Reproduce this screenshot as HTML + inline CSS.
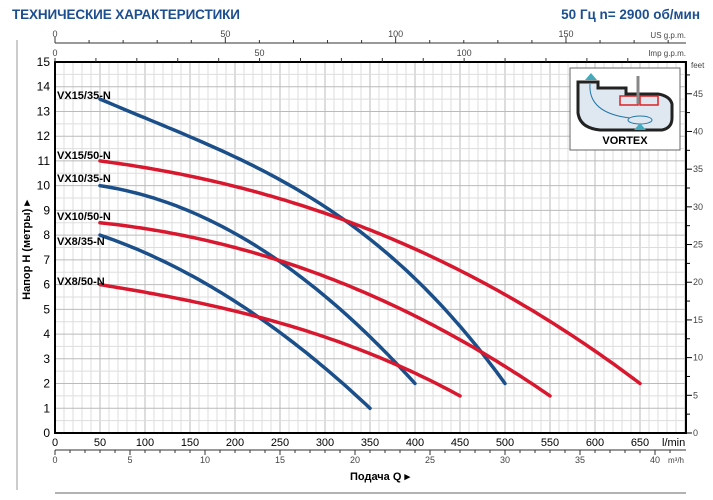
<!DOCTYPE html>
<html><head><meta charset="utf-8">
<style>
html,body{margin:0;padding:0;background:#fff;}
svg{display:block;font-family:"Liberation Sans",sans-serif;}
</style></head><body>
<svg id="s" width="713" height="500" viewBox="0 0 713 500" xmlns="http://www.w3.org/2000/svg">
<text x="12" y="19" font-size="13.5" font-weight="bold" fill="#1c4f8f" textLength="228">ТЕХНИЧЕСКИЕ ХАРАКТЕРИСТИКИ</text>
<text x="700" y="19" font-size="13.5" font-weight="bold" fill="#1c4f8f" text-anchor="end">50 Гц   n= 2900 об/мин</text>
<line x1="17" y1="40" x2="17" y2="490" stroke="#999" stroke-width="1"/>
<line x1="55" y1="493" x2="686" y2="493" stroke="#999" stroke-width="1.5"/>
<g id="grid"></g>
<g id="curves"></g>
<rect x="55" y="62" width="631" height="371" fill="none" stroke="#000" stroke-width="2"/>
<g id="labels" font-size="11"></g>
<g transform="translate(570,68)">
<rect x="0" y="0" width="110" height="82" fill="#fff" stroke="#666"/>
<path d="M8,14 L8,45 Q10,60 30,62 L92,62 Q102,60 102,50 L102,36 Q100,28 88,26 L56,26 L56,20 L28,20 L28,14 Z" fill="#dfe8f0" stroke="#222" stroke-width="3"/>
<rect x="50" y="28" width="18" height="9" fill="none" stroke="#d22" stroke-width="1.5"/>
<rect x="70" y="28" width="18" height="9" fill="none" stroke="#d22" stroke-width="1.5"/>
<line x1="68" y1="8" x2="68" y2="36" stroke="#888" stroke-width="3"/>
<ellipse cx="70" cy="52" rx="12" ry="4" fill="none" stroke="#27a" stroke-width="1"/>
<path d="M20,16 Q18,45 60,50" fill="none" stroke="#27a"/>
<polygon points="15,12 21,5 27,12" fill="#4ab"/>
<polygon points="64,62 70,55 76,62" fill="#4ab"/>
<text x="55" y="76" font-size="11" font-weight="bold" text-anchor="middle">VORTEX</text>
</g>
<text x="380" y="480" font-size="11" font-weight="bold" text-anchor="middle">Подача Q ▸</text>
<text transform="translate(30,250) rotate(-90)" font-size="11" font-weight="bold" text-anchor="middle">Напор H (метры) ▸</text>
</svg>
<script>
var NS="http://www.w3.org/2000/svg";
function X(q){return 55+q*0.9;}
function Y(h){return 433-h*24.733;}
function el(p,t,a,txt){var e=document.createElementNS(NS,t);for(var k in a)e.setAttribute(k,a[k]);if(txt!=null)e.textContent=txt;document.getElementById(p).appendChild(e);return e;}
for(var q=0;q<=700;q+=10){var x=X(q);el("grid","line",{x1:x,y1:62,x2:x,y2:433,stroke:q%50==0?"#bbb":"#ddd","stroke-width":1});}
for(var h=0;h<=15;h+=0.5){var y=Y(h);el("grid","line",{x1:55,y1:y,x2:686,y2:y,stroke:h%1==0?"#bbb":"#ddd","stroke-width":1});}
for(var h=0;h<=15;h++){el("labels","text",{x:50,y:Y(h)+4,"text-anchor":"end","font-size":12},h);}
for(var q=0;q<=650;q+=50){el("labels","text",{x:X(q),y:446,"text-anchor":"middle","font-size":11},q);}
el("labels","text",{x:662,y:446,"font-size":11},"l/min");
for(var f=0;f<=48;f+=2.5){var y=433-f*0.3048*24.733;el("labels","line",{x1:686,y1:y,x2:f%5==0?692:690,y2:y,stroke:"#000"});if(f%5==0&&f>0)el("labels","text",{x:693,y:y+3,"font-size":9,fill:"#444"},f);}
el("labels","text",{x:693,y:436,"font-size":9,fill:"#444"},"0");
el("labels","text",{x:691,y:68,"font-size":8,fill:"#444"},"feet");
el("labels","line",{x1:55,y1:43,x2:686,y2:43,stroke:"#333"});
for(var g=0;g<=180;g+=10){var x=55+g*3.785*0.9;el("labels","line",{x1:x,y1:43,x2:x,y2:g%50==0?37:40,stroke:"#333"});if(g%50==0)el("labels","text",{x:x,y:37,"font-size":9,"text-anchor":"middle",fill:"#444"},g);}
el("labels","text",{x:686,y:38,"font-size":8,"text-anchor":"end",fill:"#444"},"US g.p.m.");
for(var g=0;g<=140;g+=10){var x=55+g*4.546*0.9;el("labels","line",{x1:x,y1:62,x2:x,y2:58,stroke:"#333"});if(g%50==0&&g<=100)el("labels","text",{x:x,y:56,"font-size":9,"text-anchor":"middle",fill:"#444"},g);}
el("labels","text",{x:686,y:56,"font-size":8,"text-anchor":"end",fill:"#444"},"Imp g.p.m.");
el("labels","line",{x1:55,y1:450,x2:686,y2:450,stroke:"#333"});
for(var m=0;m<=41;m++){var x=55+m*16.667*0.9;el("labels","line",{x1:x,y1:450,x2:x,y2:m%5==0?455:453,stroke:"#333"});if(m%5==0)el("labels","text",{x:x,y:463,"font-size":9,"text-anchor":"middle",fill:"#444"},m);}
el("labels","text",{x:668,y:463,"font-size":8,fill:"#444"},"m³/h");
function lag(P,q){var s=0;for(var i=0;i<P.length;i++){var t=P[i][1];for(var j=0;j<P.length;j++)if(j!=i)t*=(q-P[j][0])/(P[i][0]-P[j][0]);s+=t;}return s;}
var C=[["VX15/35-N","#1b4f8a",[[50,13.5],[186,11.4],[322,8.6],[500,2]],99],
["VX15/50-N","#d8182e",[[50,11],[322,8.6],[491,5.78],[650,2]],159],
["VX10/35-N","#1b4f8a",[[50,10],[247,7.0],[400,2]],182],
["VX10/50-N","#d8182e",[[50,8.5],[247,7.0],[464,3.48],[550,1.5]],220],
["VX8/35-N","#1b4f8a",[[50,8],[226,4.69],[350,1]],245],
["VX8/50-N","#d8182e",[[50,6],[226,4.69],[385,2.67],[450,1.5]],285]];
C.forEach(function(c){var P=c[2],a=P[0][0],d=P[P.length-1][0],pts=[];
for(var q=a;q<=d+0.01;q+=5){pts.push(X(q).toFixed(1)+","+Y(lag(P,q)).toFixed(1));}
el("curves","polyline",{points:pts.join(" "),fill:"none",stroke:c[1],"stroke-width":3.5,"stroke-linecap":"round"});
el("labels","text",{x:57,y:c[3],"font-size":11,"font-weight":"bold"},c[0]);});
</script>
</body></html>
